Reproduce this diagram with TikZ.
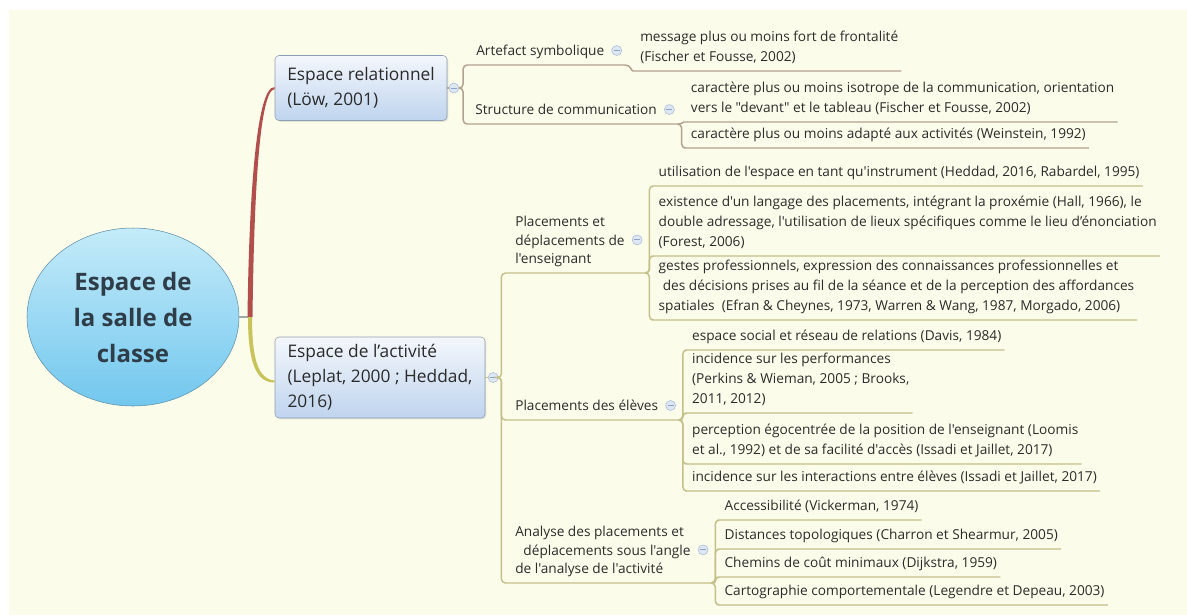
\documentclass[tikz,border=0pt]{standalone}
\usepackage{fontspec}
\setmainfont{Open Sans}[Ligatures=TeXOff]
\usetikzlibrary{positioning,shapes.geometric,calc,shadows}

\definecolor{cream}{HTML}{FCFCEA}
\definecolor{inkgray}{HTML}{2B2B2B}
\definecolor{rootink}{HTML}{2E3D48}
\definecolor{stubgray}{HTML}{A0A8A8}
\definecolor{relbranch}{HTML}{B24E4C}
\definecolor{actbranch}{HTML}{C8C35A}
\definecolor{relrule}{HTML}{B3A28F}
\definecolor{actrule}{HTML}{C4C08A}
\definecolor{boxtop}{HTML}{F4F7FC}
\definecolor{boxbottom}{HTML}{BFD4EE}
\definecolor{boxedge}{HTML}{8E9EB2}
\definecolor{roottop}{HTML}{C4EBF9}
\definecolor{rootbottom}{HTML}{72C7EE}
\definecolor{rootedge}{HTML}{5F90A8}
\definecolor{knobfill}{HTML}{DDE7F3}
\definecolor{knobedge}{HTML}{A7BCD4}
\definecolor{knobink}{HTML}{8DA5C2}

\tikzset{
  rootnode/.style={ellipse, draw=rootedge, top color=roottop, bottom color=rootbottom,
    minimum width=159pt, minimum height=133.5pt, inner sep=0pt, align=center,
    text=rootink, font=\fontsize{18}{27}\selectfont\bfseries},
  mainbox/.style={rectangle, rounded corners=3pt, draw=boxedge, top color=boxtop,
    bottom color=boxbottom, align=left, text=inkgray, font=\fontsize{13}{18.75}\selectfont,
    drop shadow={opacity=0.18, shadow xshift=1pt, shadow yshift=-1pt}},
  topic/.style={anchor=south west, align=left, text=inkgray, inner xsep=2.25pt,
    inner ysep=6.75pt, text depth=0pt, font=\fontsize{10.25}{14}\selectfont},
  leaf/.style={topic, font=\fontsize{10.25}{15}\selectfont},
  collapse/.style={circle, draw=knobedge, fill=knobfill, minimum size=7.5pt, inner sep=0pt,
    path picture={\draw[knobink, line width=0.7pt]
      ([xshift=-2.2pt]path picture bounding box.center) -- ([xshift=2.2pt]path picture bounding box.center);}},
  relline/.style={draw=relrule, line width=1.1pt, rounded corners=3pt},
  actline/.style={draw=actrule, line width=1.1pt, rounded corners=3pt},
}

\begin{document}
\begin{tikzpicture}[x=0.75pt, y=-0.75pt]
  % Background
  \useasboundingbox (0,0) rectangle (1187,615);
  \fill[white] (0,0) rectangle (1187,615);
  \fill[cream] (9,10) rectangle (1187,615);

  % Central topic and the two main boxes
  \node[rootnode] (root) at (133,317) {Espace de\\la salle de\\classe};
  \node[mainbox, minimum width=129pt, minimum height=48.75pt] (rel) at (361,88) {Espace relationnel\\(Löw, 2001)};
  \node[mainbox, minimum width=157.5pt, minimum height=60.75pt] (act) at (380,377.5) {Espace de l’activité\\(Leplat, 2000 ; Heddad,\\2016)};
  \node[collapse, right=1pt of rel] (mrel) {};
  \node[collapse, right=2pt of act] (mact) {};

  % Main branches
  \coordinate (hub) at (250,317);
  \coordinate (actin) at ($(act.west)+(0,4)$);
  \draw[stubgray, line width=1pt] (root.east) -- (hub);
  \fill[relbranch] ($(hub)+(-2.5,0)$) .. controls (249,200) and (256,86) .. ($(rel.west)+(0,-1)$)
    -- ($(rel.west)+(0,1)$) .. controls (259,90) and (254,200) .. ($(hub)+(2.5,0)$) -- cycle;
  \fill[actbranch] ($(hub)+(-2,0)$) .. controls (248,362) and (256,383) .. ($(actin)+(0,1)$)
    -- ($(actin)+(0,-1)$) .. controls (259,379) and (252,362) .. ($(hub)+(2,0)$) -- cycle;

  % Espace relationnel
  \node[topic] (art) at (473,65) {Artefact symbolique};
  \node[collapse, right=3pt of art] (mart) {};
  \node[topic] (str) at (472,124) {Structure de communication};
  \node[collapse, right=3pt of str] (mstr) {};
  \coordinate (art-u) at ($(art.south -| mart.east)+(3,0)$);
  \coordinate (str-u) at ($(str.south -| mstr.east)+(3,0)$);
  \node[leaf] (msg) at ($(art-u)+(12,6)$) {message plus ou moins fort de frontalité\\(Fischer et Fousse, 2002)};
  \node[leaf] (iso) at ($(str-u)+(10,-2)$) {caractère plus ou moins isotrope de la communication, orientation\\vers le "devant" et le tableau (Fischer et Fousse, 2002)};
  \node[leaf] (ada) at ($(str-u)+(10,24)$) {caractère plus ou moins adapté aux activités (Weinstein, 1992)};

  \draw[relline] (rel.east) -- (mrel.west);
  \draw[relline] (mrel.east) -- ++(4,0) |- (art.south west) -- (art-u);
  \draw[relline] (mrel.east) -- ++(4,0) |- (str.south west) -- (str-u);
  \draw[relline] (art-u) .. controls +(6,0) and +(-6,0) .. (msg.south west) -- (msg.south east);
  \draw[relline] (str-u) .. controls +(5,0) and +(-5,0) .. (iso.south west) -- (iso.south east);
  \draw[relline] (str-u) -- ++(4,0) |- (ada.south west) -- (ada.south east);

  % Espace de l'activite
  \node[topic] (ens) at (512,273) {Placements et\\déplacements de\\l'enseignant};
  \node[collapse, right=3pt of ens] (mens) {};
  \node[topic] (elv) at (512,420) {Placements des élèves};
  \node[collapse, right=3pt of elv] (melv) {};
  \node[topic] (ana) at (512,583) {Analyse des placements et\\\hspace*{0.6em}déplacements sous l'angle\\de l'analyse de l'activité};
  \node[collapse, right=3pt of ana] (mana) {};
  \coordinate (ens-u) at ($(ens.south -| mens.east)+(3,0)$);
  \coordinate (elv-u) at ($(elv.south -| melv.east)+(3,0)$);
  \coordinate (ana-u) at ($(ana.south -| mana.east)+(3,0)$);

  \node[leaf] (ins) at ($(ens-u)+(10,-87)$) {utilisation de l'espace en tant qu'instrument (Heddad, 2016, Rabardel, 1995)};
  \node[leaf] (lang) at ($(ens-u)+(10,-17)$) {existence d'un langage des placements, intégrant la proxémie (Hall, 1966), le\\double adressage, l'utilisation de lieux spécifiques comme le lieu d’énonciation\\(Forest, 2006)};
  \node[leaf] (ges) at ($(ens-u)+(10,47)$) {gestes professionnels, expression des connaissances professionnelles et\\\hspace*{0.3em}des décisions prises au fil de la séance et de la perception des affordances\\spatiales\ \ (Efran \& Cheynes, 1973, Warren \& Wang, 1987, Morgado, 2006)};

  \node[leaf] (soc) at ($(elv-u)+(10,-70)$) {espace social et réseau de relations (Davis, 1984)};
  \node[leaf] (perf) at ($(elv-u)+(10,-7)$) {incidence sur les performances\\(Perkins \& Wieman, 2005 ; Brooks,\\2011, 2012)};
  \node[leaf] (ego) at ($(elv-u)+(10,44)$) {perception égocentrée de la position de l'enseignant (Loomis\\et al., 1992) et de sa facilité d'accès (Issadi et Jaillet, 2017)};
  \node[leaf] (inter) at ($(elv-u)+(10,71)$) {incidence sur les interactions entre élèves (Issadi et Jaillet, 2017)};

  \node[leaf] (acc) at ($(ana-u)+(10,-63)$) {Accessibilité (Vickerman, 1974)};
  \node[leaf] (dist) at ($(ana-u)+(10,-34)$) {Distances topologiques (Charron et Shearmur, 2005)};
  \node[leaf] (chem) at ($(ana-u)+(10,-6)$) {Chemins de coût minimaux (Dijkstra, 1959)};
  \node[leaf] (carto) at ($(ana-u)+(10,22)$) {Cartographie comportementale (Legendre et Depeau, 2003)};

  \draw[actline] (act.east) -- (mact.west);
  \foreach \topicname in {ens,elv,ana}
    \draw[actline] (mact.east) -- ++(3,0) |- (\topicname.south west) -- (\topicname-u);
  \foreach \leafname in {ins,lang,ges}
    \draw[actline] (ens-u) -- ++(4,0) |- (\leafname.south west) -- (\leafname.south east);
  \foreach \leafname in {soc,perf,ego,inter}
    \draw[actline] (elv-u) -- ++(4,0) |- (\leafname.south west) -- (\leafname.south east);
  \foreach \leafname in {acc,dist,chem,carto}
    \draw[actline] (ana-u) -- ++(4,0) |- (\leafname.south west) -- (\leafname.south east);
\end{tikzpicture}
\end{document}
